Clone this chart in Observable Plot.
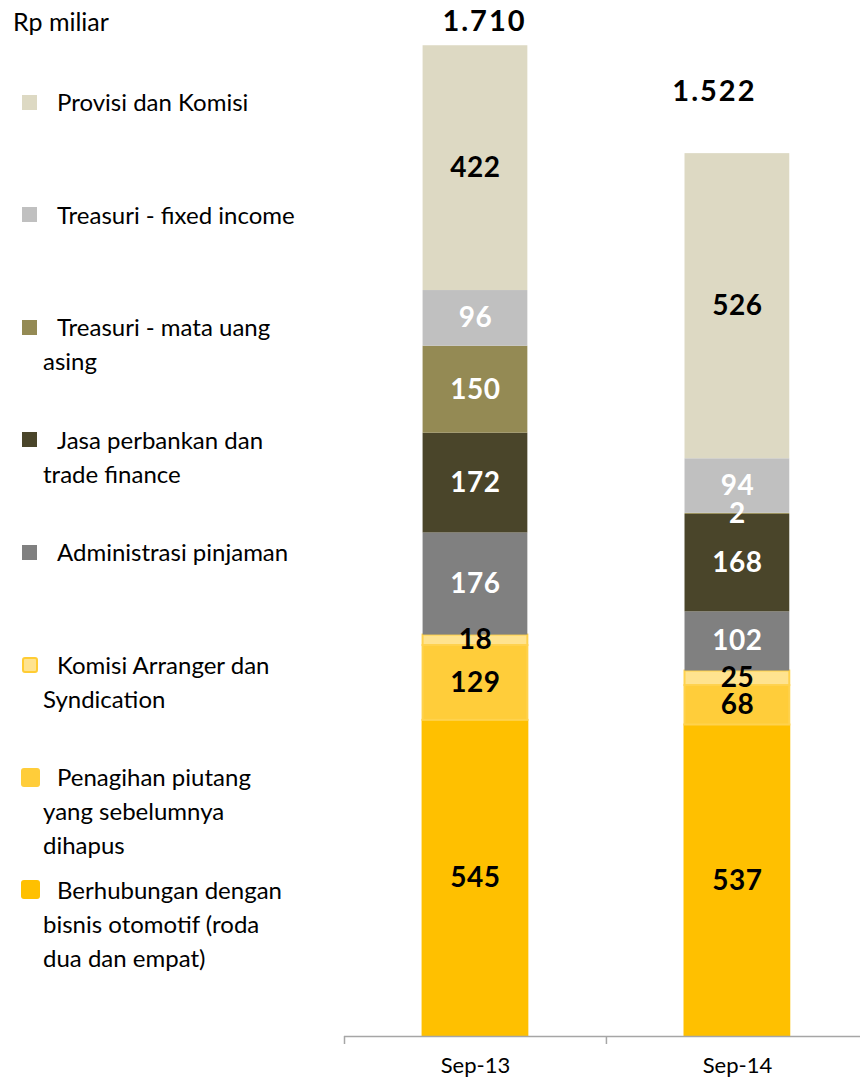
<!DOCTYPE html>
<html>
<head>
<meta charset="utf-8">
<script src="https://cdn.jsdelivr.net/npm/d3@7"></script>
<script src="https://cdn.jsdelivr.net/npm/@observablehq/plot@0.6"></script>
<style>
  html, body { margin: 0; padding: 0; background: #fff; }
  #wrap { position: relative; width: 860px; height: 1082px; display: flex; font-family: Lato, "Open Sans", sans-serif; }
  #legend { position: relative; width: 330px; height: 1082px; flex: none; }
  #unit { position: absolute; left: 13px; top: 4px; font-size: 25px; line-height: 34px; color: #000; }
  .item { position: absolute; left: 43px; width: 287px; font-size: 24px; line-height: 34px; color: #000; }
  .item .first { padding-left: 14px; }
  .sw { position: absolute; box-sizing: border-box; }
  #chart { flex: none; }
</style>
</head>
<body>
<div id="wrap">
  <div id="legend"><div id="unit">Rp miliar</div></div>
  <div id="chart"></div>
</div>
<script>
// ---- data ----
const periods = ["Sep-13", "Sep-14"];
const series = [
  "Berhubungan dengan bisnis otomotif (roda dua dan empat)",
  "Penagihan piutang yang sebelumnya dihapus",
  "Komisi Arranger dan Syndication",
  "Administrasi pinjaman",
  "Jasa perbankan dan trade finance",
  "Treasuri - mata uang asing",
  "Treasuri - fixed income",
  "Provisi dan Komisi"
];
const valuesSep13 = [545, 129, 18, 176, 172, 150, 96, 422];
const valuesSep14 = [537, 68, 25, 102, 168, 2, 94, 526];
const totalLabels = ["1.710", "1.522"];
const legendLines = [
  ["Provisi dan Komisi"],
  ["Treasuri - fixed income"],
  ["Treasuri - mata uang", "asing"],
  ["Jasa perbankan dan", "trade finance"],
  ["Administrasi pinjaman"],
  ["Komisi Arranger dan", "Syndication"],
  ["Penagihan piutang", "yang sebelumnya", "dihapus"],
  ["Berhubungan dengan", "bisnis otomotif (roda", "dua dan empat)"]
];
const legendSeries = series.slice().reverse();

// ---- styles ----
const fills = {
  "Provisi dan Komisi": "#DDD9C3",
  "Treasuri - fixed income": "#C0C0C0",
  "Treasuri - mata uang asing": "#948A54",
  "Jasa perbankan dan trade finance": "#4A452A",
  "Administrasi pinjaman": "#808080",
  "Komisi Arranger dan Syndication": "#FFE38F",
  "Penagihan piutang yang sebelumnya dihapus": "#FFCD3A",
  "Berhubungan dengan bisnis otomotif (roda dua dan empat)": "#FFC000"
};
const strokes = {
  "Komisi Arranger dan Syndication": "#FFD24D",
  "Penagihan piutang yang sebelumnya dihapus": "#FFD24D",
  "Berhubungan dengan bisnis otomotif (roda dua dan empat)": "#FFC000"
};
const whiteLabel = new Set(["Treasuri - fixed income", "Treasuri - mata uang asing", "Jasa perbankan dan trade finance", "Administrasi pinjaman"]);

// ---- build stacked rows ----
const allValues = [valuesSep13, valuesSep14];
const rows = [];
const totals = [];
periods.forEach((p, i) => {
  let cum = 0;
  series.forEach((s, j) => {
    const v = allValues[i][j];
    rows.push({period: p, idx: i, series: s, value: v, y1: cum, y2: cum + v});
    cum += v;
  });
  totals.push({period: p, idx: i, total: cum, label: totalLabels[i]});
});

// ---- legend ----
const legend = document.getElementById("legend");
legendLines.forEach((lines, i) => {
  const s = legendSeries[i];
  const top = 85 + 112.5 * i;
  const div = document.createElement("div");
  div.className = "item";
  div.style.top = top + "px";
  div.innerHTML = lines.map((l, k) => `<div class="${k === 0 ? "first" : ""}">${l}</div>`).join("");
  legend.appendChild(div);
  const sw = document.createElement("div");
  sw.className = "sw";
  const yellow = strokes[s] !== undefined;
  const size = yellow ? (s.startsWith("Komisi") ? 16 : 19) : 15;
  sw.style.width = size + "px";
  sw.style.height = size + "px";
  sw.style.left = (yellow && size === 19 ? 21 : 22) + "px";
  sw.style.top = (top + 17 - size / 2) + "px";
  sw.style.background = fills[s];
  if (yellow) {
    sw.style.borderRadius = "3px";
    if (s.startsWith("Komisi")) sw.style.border = "2px solid #FFCC33";
  }
  legend.appendChild(sw);
});

// ---- chart ----
const W = 530, H = 1082;
const chart = Plot.plot({
  width: W,
  height: H,
  marginLeft: 14,
  marginRight: 0,
  marginTop: 0,
  marginBottom: 46,
  style: {fontFamily: "Lato, 'Open Sans', sans-serif", background: "#fff", overflow: "visible"},
  x: {domain: [0, 1.97], axis: null},
  y: {domain: [0, 1786], axis: null},
  marks: [
    Plot.rect(rows, {
      x1: d => d.idx + 0.3,
      x2: d => d.idx + 0.7,
      y1: "y1",
      y2: "y2",
      fill: d => fills[d.series],
      stroke: d => strokes[d.series] || "none",
      strokeWidth: 2
    }),
    Plot.ruleY([0], {stroke: "#A6A6A6", strokeWidth: 1.5}),
    Plot.axisX({ticks: [0, 1, 2], tickSize: 8, tickFormat: () => "", stroke: "#A6A6A6", strokeWidth: 1.5}),
    Plot.axisX({ticks: [0.5, 1.5], tickSize: 0, tickPadding: 21, tickFormat: d => periods[Math.floor(d)], fontSize: 22, fill: "#000"}),
    Plot.text(rows, {
      x: d => d.idx + 0.5,
      y: d => (d.y1 + d.y2) / 2,
      text: d => String(d.value),
      fill: d => whiteLabel.has(d.series) ? "#fff" : "#000",
      fontSize: 28,
      fontWeight: "bold"
    }),
    Plot.text(totals.filter(d => d.idx === 0), {
      x: d => d.idx + 0.5, y: "total", text: "label",
      fontSize: 29, fontWeight: "bold", fill: "#000", dy: -24, dx: 9
    }),
    Plot.text(totals.filter(d => d.idx === 1), {
      x: d => d.idx + 0.5, y: "total", text: "label",
      fontSize: 29, fontWeight: "bold", fill: "#000", dy: -62, dx: -23
    })
  ]
});
const textGroups = chart.querySelectorAll("g[aria-label='text']");
textGroups.forEach((g, k) => {
  g.setAttribute("letter-spacing", k === 0 ? "0.5" : "2");
});
document.getElementById("chart").appendChild(chart);
</script>
</body>
</html>
